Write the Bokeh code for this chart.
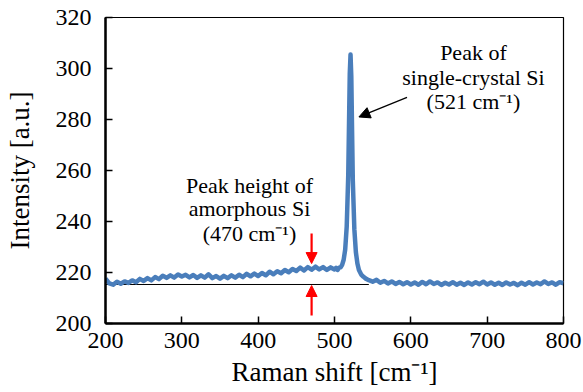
from bokeh.plotting import figure
from bokeh.models import Arrow, NormalHead, Label, FixedTicker, ColumnDataSource
from bokeh.embed import file_html
from bokeh.resources import INLINE

# ---- data ----
raman_shift = [
    200, 205, 210, 215, 220, 225, 230, 235, 240, 245, 250, 255, 260, 265, 270, 275,
    280, 285, 290, 295, 300, 305, 310, 315, 320, 325, 330, 335, 340, 345, 350, 355,
    360, 365, 370, 375, 380, 385, 390, 395, 400, 405, 410, 415, 420, 425, 430, 435,
    440, 445, 450, 455, 460, 465, 470, 475, 480, 485, 490, 495, 500,
    502, 504, 506, 508, 510, 512, 514, 516, 518, 519, 520, 521, 522, 523, 524, 526,
    528, 530, 532, 535, 538, 541, 545,
    550, 555, 560, 565, 570, 575, 580, 585, 590, 595, 600, 605, 610, 615, 620, 625,
    630, 635, 640, 645, 650, 655, 660, 665, 670, 675, 680, 685, 690, 695, 700, 705,
    710, 715, 720, 725, 730, 735, 740, 745, 750, 755, 760, 765, 770, 775, 780, 785,
    790, 795, 800,
]
intensity = [
    217.6, 215.7, 215.2, 216.4, 215.6, 216.5, 215.9, 216.9, 216.2, 217.5, 216.7, 217.8, 216.9, 218.2, 217.4, 218.7,
    217.9, 218.9, 218.0, 219.2, 218.4, 219.1, 218.1, 219.0, 217.9, 218.9, 218.0, 219.3, 217.8, 218.6, 217.6, 218.7,
    217.8, 218.9, 218.0, 219.1, 218.2, 219.5, 218.5, 219.6, 218.6, 219.8, 218.9, 220.3, 219.3, 220.5, 219.7, 221.0,
    220.1, 221.4, 220.6, 221.9, 220.8, 222.1, 221.1, 222.3, 221.2, 222.1, 221.0, 222.0, 221.2,
    221.8, 221.0, 221.9, 222.0, 223.0, 225.0, 229.0, 238.0, 258.0, 278.0, 298.0, 305.5, 297.0, 276.0, 256.0, 237.0,
    228.0, 223.5, 221.0, 219.2, 218.3, 217.6, 217.0,
    216.4, 217.1, 216.0, 216.7, 215.7, 216.5, 215.5, 216.3, 215.4, 216.2, 215.3, 216.1, 215.2, 216.3, 215.4, 216.5,
    215.5, 216.1, 215.1, 216.0, 215.3, 216.2, 215.2, 216.0, 215.1, 216.1, 215.3, 216.2, 215.4, 216.4, 215.3, 216.1,
    215.2, 216.0, 215.1, 216.1, 215.3, 215.9, 215.0, 216.0, 215.2, 216.2, 215.3, 216.1, 215.4, 216.5, 215.5, 216.1,
    215.2, 216.2, 215.8,
]
x_ticks = [200, 300, 400, 500, 600, 700, 800]
y_ticks = [200, 220, 240, 260, 280, 300, 320]

baseline_y = 215.3
baseline_x = [200, 545]
amorphous_x = 470
amorphous_top_arrow = (235.3, 223.5)
amorphous_bottom_arrow = (203.1, 214.9)
crystal_arrow_start = (595, 288.7)
crystal_arrow_end = (532, 281.0)

crystal_label = ["Peak of", "single-crystal Si", "(521 cm\u207b\u00b9)"]
crystal_label_x = 682
crystal_label_y = [306.3, 296.5, 287.0]
amorphous_label = ["Peak height of", "amorphous Si", "(470 cm\u207b\u00b9)"]
amorphous_label_x = 388.6
amorphous_label_y = [254.1, 245.1, 235.3]

FONT = "Liberation Serif"
LINE_COLOR = "#4a7ebb"

p = figure(width=583, height=392, x_range=(200, 800), y_range=(200, 320),
           output_backend="svg", toolbar_location=None,
           min_border_left=105, min_border_right=20, min_border_top=17, min_border_bottom=69)

p.xgrid.visible = False
p.ygrid.visible = False
p.outline_line_color = "black"
p.outline_line_width = 1.2
p.background_fill_color = "white"
p.border_fill_color = "white"

p.xaxis.ticker = FixedTicker(ticks=x_ticks)
p.yaxis.ticker = FixedTicker(ticks=y_ticks)
p.xaxis.axis_label = "Raman shift [cm\u207b\u00b9]"
p.yaxis.axis_label = "Intensity [a.u.]"

for ax in (p.xaxis[0], p.yaxis[0]):
    ax.axis_line_color = "black"
    ax.axis_line_width = 2.5
    ax.major_tick_in = 7
    ax.major_tick_out = 0
    ax.major_tick_line_width = 1.5
    ax.minor_tick_line_color = None
    ax.major_label_text_font = FONT
    ax.major_label_text_font_size = "24px"
    ax.major_label_text_color = "black"
    ax.axis_label_text_font = FONT
    ax.axis_label_text_font_size = "27px"
    ax.axis_label_text_font_style = "normal"
    ax.axis_label_text_color = "black"

p.yaxis.major_label_standoff = 14
p.yaxis.axis_label_standoff = 18
p.xaxis.major_label_standoff = 9
p.xaxis.axis_label_standoff = 6

# baseline reference line
p.line(x=baseline_x, y=[baseline_y, baseline_y], line_color="black", line_width=1)

# spectrum
src = ColumnDataSource(dict(x=raman_shift, y=intensity))
p.line("x", "y", source=src, line_color=LINE_COLOR, line_width=4.5, line_join="round")

# red arrows
for (y0, y1) in (amorphous_top_arrow, amorphous_bottom_arrow):
    p.add_layout(Arrow(end=NormalHead(size=11, fill_color="red", line_color="red"),
                       x_start=amorphous_x, y_start=y0, x_end=amorphous_x, y_end=y1,
                       line_color="red", line_width=2.2))

# black arrow
p.add_layout(Arrow(end=NormalHead(size=11, fill_color="black", line_color="black"),
                   x_start=crystal_arrow_start[0], y_start=crystal_arrow_start[1],
                   x_end=crystal_arrow_end[0], y_end=crystal_arrow_end[1],
                   line_color="black", line_width=1.3))

for txt, yy in zip(crystal_label, crystal_label_y):
    p.add_layout(Label(x=crystal_label_x, y=yy, text=txt, text_align="center",
                       text_baseline="middle", text_font=FONT, text_font_size="22px",
                       text_color="black"))
for txt, yy in zip(amorphous_label, amorphous_label_y):
    p.add_layout(Label(x=amorphous_label_x, y=yy, text=txt, text_align="center",
                       text_baseline="middle", text_font=FONT, text_font_size="22px",
                       text_color="black"))

open("out.html", "w").write(file_html(p, INLINE))
